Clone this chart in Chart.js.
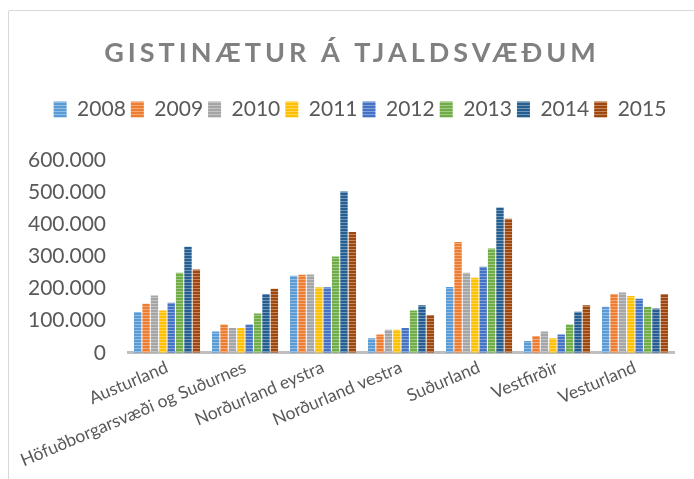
<!DOCTYPE html>
<html lang="is">
<head>
<meta charset="utf-8">
<script src="https://cdn.jsdelivr.net/npm/chart.js@4"></script>
<style>
  html, body { margin: 0; padding: 0; background: #fff; overflow: hidden; }
  #cadre { position: absolute; left: 8px; top: 10px; width: 700px; height: 480px; border: 1px solid #d9d9d9; border-radius: 2px; }
  #graphique { position: absolute; left: 0; top: 0; }
</style>
</head>
<body>
<div id="cadre"></div>
<canvas id="graphique" width="694" height="479"></canvas>
<script>
// Données
const regions = ["Austurland", "Höfuðborgarsvæði og Suðurnes", "Norðurland eystra", "Norðurland vestra", "Suðurland", "Vestfirðir", "Vesturland"];
const annees = ["2008", "2009", "2010", "2011", "2012", "2013", "2014", "2015"];
const nuits2008 = [127000, 66000, 240000, 45000, 205000, 37000, 143000];
const nuits2009 = [153000, 88000, 243000, 57000, 345000, 52000, 183000];
const nuits2010 = [178000, 77000, 244000, 72000, 249000, 66000, 188000];
const nuits2011 = [132000, 77000, 204000, 72000, 234000, 45000, 177000];
const nuits2012 = [156000, 88000, 204000, 77000, 268000, 57000, 168000];
const nuits2013 = [249000, 122000, 300000, 132000, 325000, 88000, 143000];
const nuits2014 = [330000, 183000, 502000, 148000, 452000, 128000, 138000];
const nuits2015 = [259000, 199000, 376000, 118000, 417000, 148000, 183000];
const graduationsY = [0, 100000, 200000, 300000, 400000, 500000, 600000];

const series = [nuits2008, nuits2009, nuits2010, nuits2011, nuits2012, nuits2013, nuits2014, nuits2015];
const couleurs = ["#5B9BD5", "#ED7D31", "#A5A5A5", "#FFC000", "#4472C4", "#70AD47", "#255E91", "#9E480E"];

// Motif rayé horizontal (comme les barres du graphique d'origine)
function motifRaye(couleur) {
  const c = document.createElement("canvas");
  c.width = 4;
  c.height = 3;
  const ctx = c.getContext("2d");
  ctx.fillStyle = couleur;
  ctx.fillRect(0, 0, 4, 3);
  ctx.fillStyle = "rgba(255,255,255,0.35)";
  ctx.fillRect(0, 0, 4, 1);
  return ctx.createPattern(c, "repeat");
}

// Format islandais : 100.000
function formatNombre(v) {
  return String(v).replace(/\B(?=(\d{3})+(?!\d))/g, ".");
}

// Titre avec espacement des lettres
const titrePlugin = {
  id: "titreEspace",
  afterDraw(chart) {
    const ctx = chart.ctx;
    ctx.save();
    ctx.font = "bold 27px Lato";
    ctx.fillStyle = "#808080";
    ctx.textAlign = "center";
    ctx.textBaseline = "middle";
    ctx.letterSpacing = "4px";
    ctx.fillText("GISTINÆTUR Á TJALDSVÆÐUM", 352, 53);
    ctx.restore();
  }
};

// Ajoute de l'espace sous la légende et la décale un peu vers la droite
const espaceLegende = {
  id: "espaceLegende",
  beforeInit(chart) {
    const fitOrigine = chart.legend.fit;
    chart.legend.fit = function () {
      fitOrigine.bind(chart.legend)();
      this.height += 30;
    };
  },
  afterLayout(chart) {
    chart.legend.left += 20;
    chart.legend.right += 20;
  }
};

const datasets = [];
for (let i = 0; i < annees.length; i++) {
  datasets.push({
    label: annees[i],
    data: series[i],
    backgroundColor: motifRaye(couleurs[i]),
    borderWidth: 0,
    barPercentage: 0.88,
    categoryPercentage: 0.86
  });
}

new Chart(document.querySelector("#graphique"), {
  type: "bar",
  data: { labels: regions, datasets: datasets },
  plugins: [titrePlugin, espaceLegende],
  options: {
    responsive: false,
    animation: false,
    layout: { padding: { top: 94, left: 6, right: 20, bottom: 4 } },
    plugins: {
      tooltip: { enabled: false },
      legend: {
        position: "top",
        labels: {
          boxWidth: 13,
          boxHeight: 16,
          padding: 5,
          color: "#595959",
          font: { family: "Lato", size: 21 }
        }
      }
    },
    scales: {
      x: {
        grid: { display: false, drawTicks: false },
        border: { display: true, color: "#bfbfbf", width: 3 },
        ticks: {
          color: "#595959",
          font: { family: "Lato", size: 17.5 },
          autoSkip: false,
          maxRotation: 23,
          minRotation: 23,
          padding: 4
        },
        afterFit(axe) {
          // les étiquettes inclinées peuvent déborder à gauche, comme dans l'original
          axe.paddingLeft = 0;
          axe.paddingRight = 0;
        }
      },
      y: {
        min: 0,
        max: 600000,
        afterBuildTicks(axe) {
          axe.ticks = graduationsY.map(v => ({ value: v }));
        },
        grid: { display: false, drawTicks: false },
        border: { display: false },
        ticks: {
          color: "#595959",
          font: { family: "Lato", size: 21 },
          padding: 22,
          callback: v => formatNombre(v)
        }
      }
    }
  }
});
</script>
</body>
</html>
